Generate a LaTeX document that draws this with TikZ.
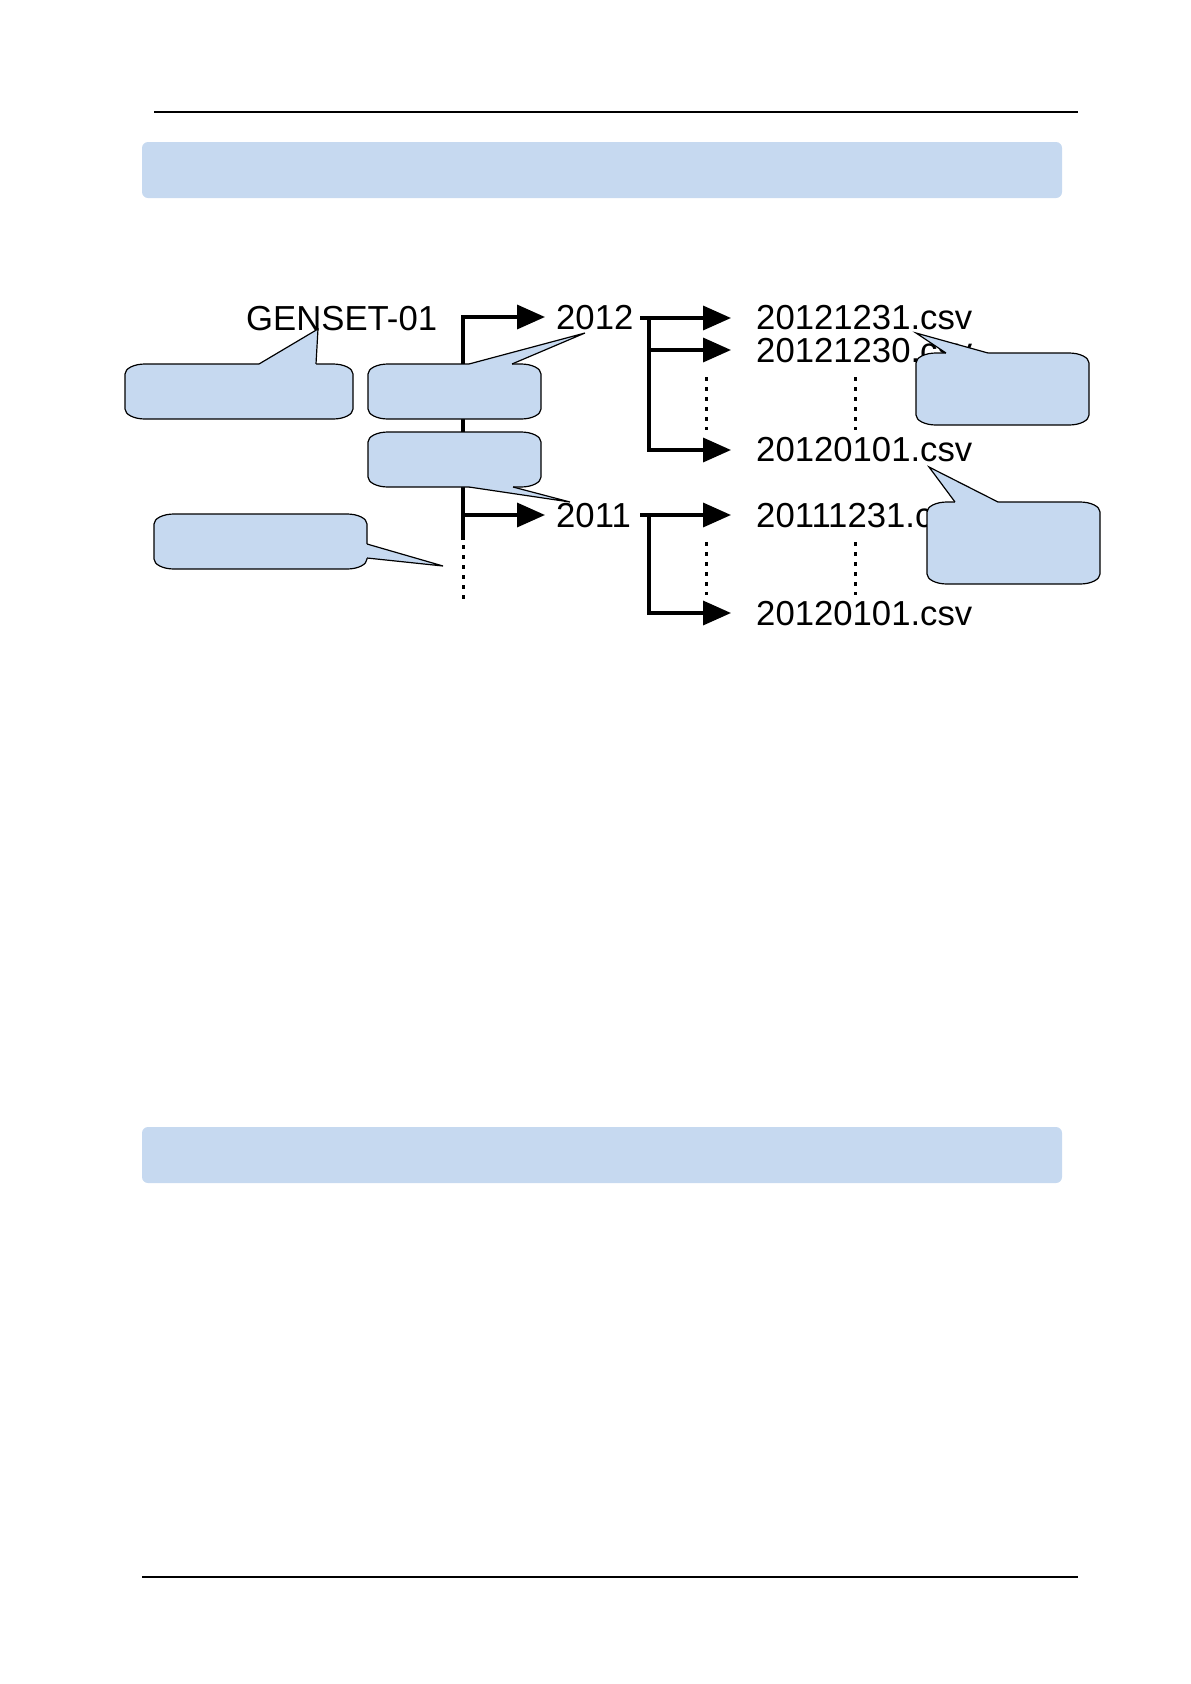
\documentclass[tikz,border=0pt]{standalone}
\usepackage{fontspec}
\setmainfont{Liberation Sans}
\usetikzlibrary{arrows.meta}
\definecolor{cb}{HTML}{C6D9F0}
\tikzset{
 lbl/.style={inner sep=0pt, anchor=base west, font=\fontsize{34.7}{40}\selectfont},
 conn/.style={line width=3.5pt, -{Triangle[length=28pt,width=24pt]}},
 trunkline/.style={line width=3.5pt},
 dots/.style={line width=3pt, dash pattern=on 4pt off 6pt},
 band/.style={fill=cb, rounded corners=6pt},
 callout/.style={fill=cb, draw=black, line width=1.2pt},
 tailline/.style={draw=black, line width=1.2pt, line join=miter},
 rule/.style={line width=1.2pt}
}
\newcommand\cbox[4]{%
 \filldraw[callout] (#1+20,#2) -- (#3-20,#2) .. controls (#3-9,#2) and (#3,#2+4.5) .. (#3,#2+10)
 -- (#3,#4-10) .. controls (#3,#4-4.5) and (#3-9,#4) .. (#3-20,#4)
 -- (#1+20,#4) .. controls (#1+9,#4) and (#1,#4-4.5) .. (#1,#4-10)
 -- (#1,#2+10) .. controls (#1,#2+4.5) and (#1+9,#2) .. (#1+20,#2) -- cycle;}
\begin{document}
\begin{tikzpicture}[x=1pt,y=-1pt]
\useasboundingbox (0,0) rectangle (1191,1684);
% rules and bands
\draw[rule] (154,112) -- (1078,112);
\draw[rule] (142,1577) -- (1078,1577);
\fill[band] (142,142) rectangle (1062,198);
\fill[band] (142,1127) rectangle (1062,1183);
% labels
\node[lbl] (genset) at (246,330) {GENSET-01};
\node[lbl] (y2012) at (556,329) {2012};
\node[lbl] (y2011) at (556,527) {2011};
\node[lbl] (f1) at (756,329) {20121231.csv};
\node[lbl] (f2) at (756,362) {20121230.csv};
\node[lbl] (f3) at (756,461) {20120101.csv};
\node[lbl] (f4) at (756,527) {20111231.csv};
\node[lbl] (f5) at (756,625) {20120101.csv};
% coordinates
\coordinate (t0) at (463,540);
\coordinate (ttop) at (463,317);
\coordinate (t2011) at (463,515);
\coordinate (tend) at (463,602);
\coordinate (a2012) at (545,317);
\coordinate (a2011) at (545,515);
\coordinate (s12) at (640,318);
\coordinate (v12) at (649,318);
\coordinate (v12m) at (649,350);
\coordinate (v12b) at (649,450);
\coordinate (k1) at (731,318);
\coordinate (k2) at (731,350);
\coordinate (k3) at (731,450);
\coordinate (s11) at (640,515);
\coordinate (v11) at (649,515);
\coordinate (v11b) at (649,613);
\coordinate (k4) at (731,515);
\coordinate (k5) at (731,613);
% trunk
\draw[conn] (t0) -- (ttop) -- (a2012);
\draw[conn] (t2011) -- (a2011);
\draw[dots] (463,545) -- (tend);
% 2012 branch
\draw[conn] (s12) -- (k1);
\draw[conn] (v12) -- (v12b) -- (k3);
\draw[conn] (v12m) -- (k2);
% 2011 branch
\draw[conn] (s11) -- (k4);
\draw[conn] (v11) -- (v11b) -- (k5);
% dotted continuation
\draw[dots] (706,377) -- (706,430);
\draw[dots] (855,377) -- (855,430);
\draw[dots] (706,542) -- (706,595);
\draw[dots] (855,542) -- (855,595);
% callouts
\cbox{125}{364}{353}{419}
\fill[cb] (259,364) -- (318,329) -- (316,364) -- (316,367) -- (259,367) -- cycle;
\draw[tailline] (259,364) -- (318,329) -- (316,364);
\cbox{368}{364}{541}{419}
\fill[cb] (469,364) -- (585,333) -- (512,364) -- (512,367) -- (469,367) -- cycle;
\draw[tailline] (469,364) -- (585,333) -- (512,364);
\cbox{368}{432}{541}{487}
\fill[cb] (469,487) -- (570,502) -- (513,487) -- (513,484) -- (469,484) -- cycle;
\draw[tailline] (469,487) -- (570,502) -- (513,487);
\cbox{154}{514}{367}{569}
\fill[cb] (367,544) -- (443,566) -- (367,558) -- (364,558) -- (364,544) -- cycle;
\draw[tailline] (367,544) -- (443,566) -- (367,558);
\cbox{916}{353}{1089}{425}
\fill[cb] (946,353) -- (916,333) -- (988,353) -- (988,356) -- (946,356) -- cycle;
\draw[tailline] (946,353) -- (916,333) -- (988,353);
\cbox{927}{502}{1100}{584}
\fill[cb] (955,502) -- (929,467) -- (998,502) -- (998,505) -- (955,505) -- cycle;
\draw[tailline] (955,502) -- (929,467) -- (998,502);
\end{tikzpicture}
\end{document}
